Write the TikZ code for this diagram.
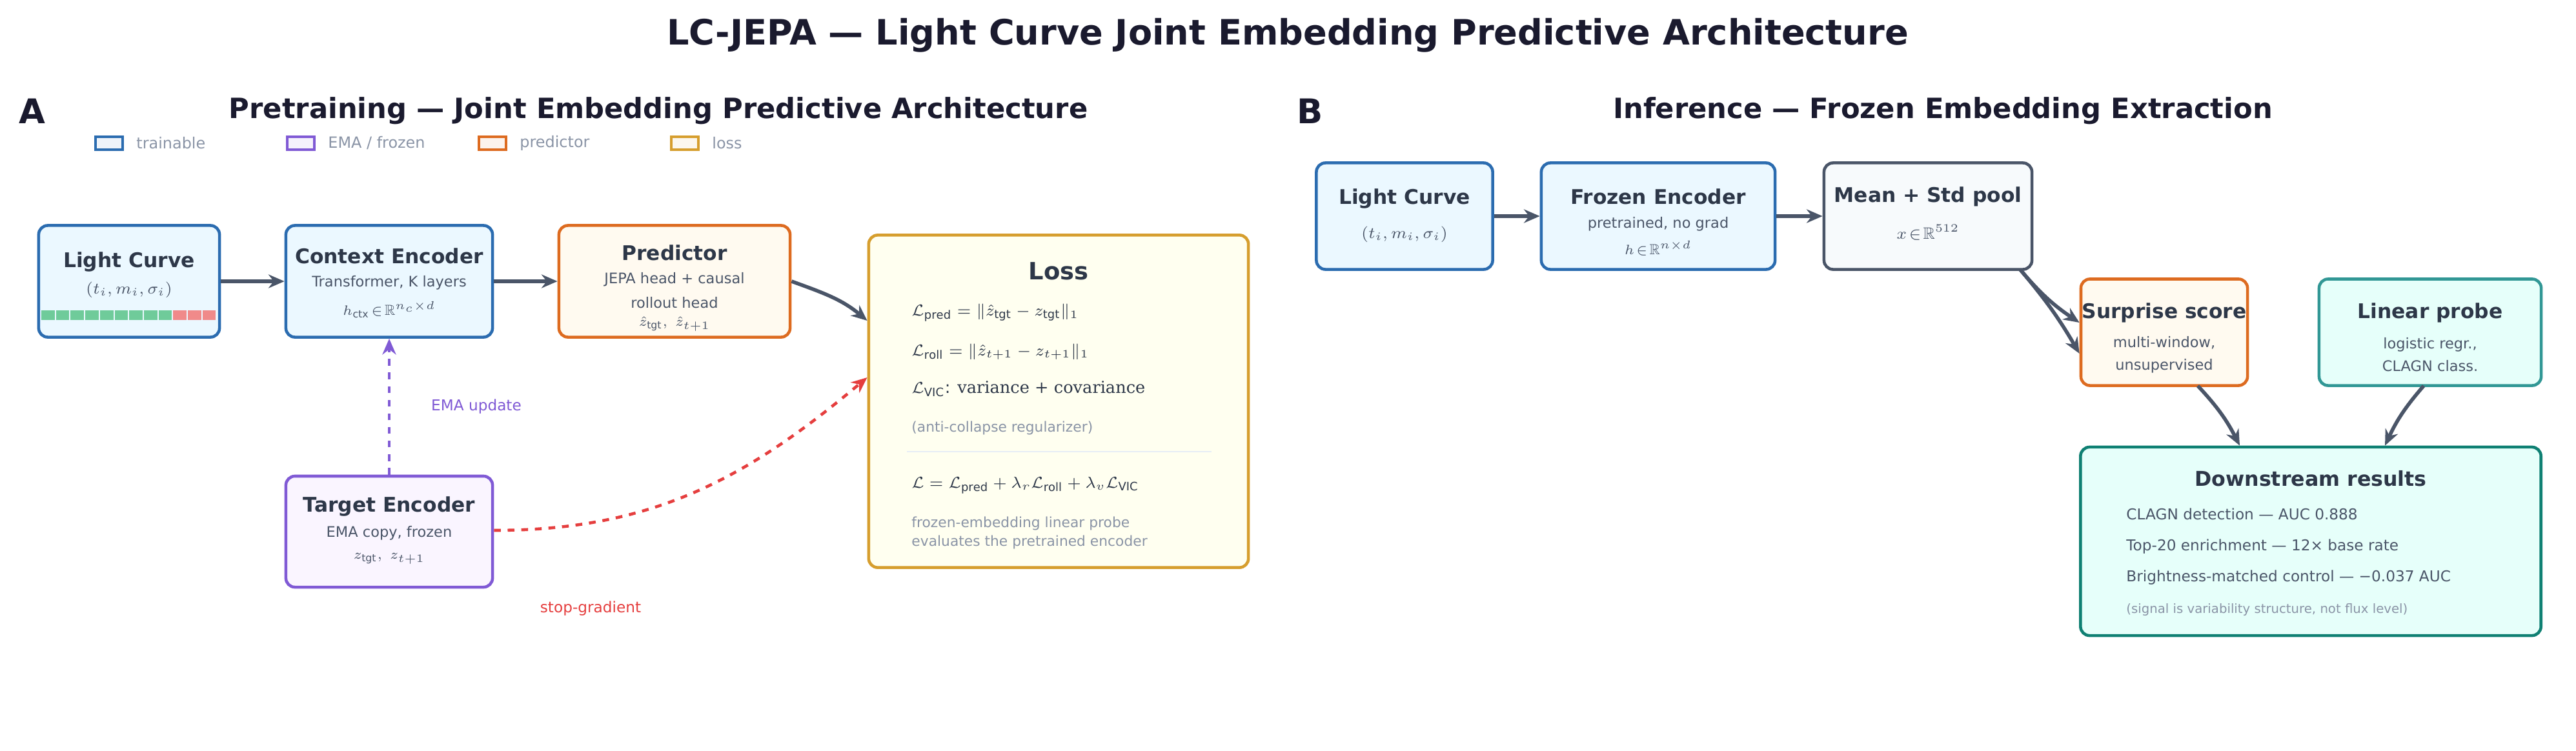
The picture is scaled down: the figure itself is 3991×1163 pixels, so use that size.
\documentclass[tikz,border=0pt]{standalone}
\usepackage{fontspec}
\setmainfont{DejaVu Sans}
\newfontfamily\serifface{DejaVu Serif}
\usepackage{amsmath}
\usepackage{amssymb}
\usetikzlibrary{arrows.meta}
\definecolor{ink}{HTML}{1A1A2E}
\definecolor{head}{HTML}{2D3748}
\definecolor{sub}{HTML}{4A5568}
\definecolor{mute}{HTML}{8A94A6}
\definecolor{blu}{HTML}{2B6CB0}\definecolor{bluf}{HTML}{EBF8FF}
\definecolor{pur}{HTML}{805AD5}\definecolor{purf}{HTML}{FAF5FF}
\definecolor{ora}{HTML}{DD6B20}\definecolor{oraf}{HTML}{FFFAF0}
\definecolor{gol}{HTML}{D69E2E}\definecolor{golf}{HTML}{FFFFF0}
\definecolor{sla}{HTML}{4A5568}\definecolor{slaf}{HTML}{F7FAFC}
\definecolor{tea}{HTML}{319795}\definecolor{teaf}{HTML}{E6FFFA}
\definecolor{teb}{HTML}{0F8073}
\definecolor{grn}{HTML}{6FCB9A}\definecolor{rd}{HTML}{F08A8A}
\definecolor{stop}{HTML}{E53E3E}

\begin{document}
\begin{tikzpicture}[x=0.01cm, y=-0.01cm,
		box/.style={draw, rounded corners=4pt, line width=1.3pt, inner sep=0pt},
		bt/.style={font=\fontsize{8.9}{11}\selectfont\bfseries, text=head},
		bs/.style={font=\fontsize{6.4}{8}\selectfont, text=sub},
		flow/.style={-{Stealth[length=7pt,width=6pt]}, line width=1.6pt, draw=sla},
		leg/.style={draw, line width=1.1pt, minimum width=0.42cm, minimum height=0.2cm, inner sep=0pt}]
\useasboundingbox (0,0) rectangle (3991,1163);
% titles
\node[font=\fontsize{15.4}{18}\selectfont\bfseries, text=ink] (title) at (1995,55) {LC-JEPA — Light Curve Joint Embedding Predictive Architecture};
\node[font=\fontsize{15}{18}\selectfont\bfseries, text=ink] (pA) at (50,172) {A};
\node[font=\fontsize{12.3}{15}\selectfont\bfseries, text=ink] (tA) at (1020,172) {Pretraining — Joint Embedding Predictive Architecture};
\node[font=\fontsize{15}{18}\selectfont\bfseries, text=ink] (pB) at (2030,172) {B};
\node[font=\fontsize{12.3}{15}\selectfont\bfseries, text=ink] (tB) at (3010,172) {Inference — Frozen Embedding Extraction};
% legend
\foreach \x/\c/\t/\n in {169/blu/{trainable}/l1, 466/pur/{EMA / frozen}/l2, 763/ora/{predictor}/l3, 1061/gol/{loss}/l4}{
	\node[leg, draw=\c, fill=\c!8] (\n) at (\x,222) {};
	\node[anchor=west, font=\fontsize{6.8}{9}\selectfont, text=mute] at (\x+30,222) {\t};
}
% panel A boxes
\node[box, draw=blu, fill=bluf, minimum width=2.8cm, minimum height=1.73cm] (lc) at (200,436) {};
\node[bt] at (200,406) {Light Curve};
\node[bs, font=\fontsize{7.5}{9}\selectfont] at (200,449) {$(t_i, m_i, \sigma_i)$};
\foreach \i in {0,...,11}{
	\pgfmathsetmacro\xx{63+\i*22.7}
	\ifnum\i<9 \fill[grn] (\xx+1,481) rectangle (\xx+21.7,496); \else \fill[rd] (\xx+1,481) rectangle (\xx+21.7,496); \fi
}
\node[box, draw=blu, fill=bluf, minimum width=3.2cm, minimum height=1.73cm] (ctx) at (603,436) {};
\node[bt] at (603,397) {Context Encoder};
\node[bs] at (603,438) {Transformer, K layers};
\node[bs] at (603,480) {$h_{\mathrm{ctx}}\!\in\!\mathbb{R}^{n_c\times d}$};
\node[box, draw=ora, fill=oraf, minimum width=3.58cm, minimum height=1.73cm] (pred) at (1045,436) {};
\node[bt] at (1045,392) {Predictor};
\node[bs, align=center] at (1045,450) {JEPA head + causal\\[3pt]rollout head};
\node[bs] at (1045,502) {$\hat z_{\mathrm{tgt}},\ \hat z_{t+1}$};
\node[box, draw=pur, fill=purf, minimum width=3.2cm, minimum height=1.72cm] (tgt) at (603,824) {};
\node[bt] at (603,785) {Target Encoder};
\node[bs] at (603,826) {EMA copy, frozen};
\node[bs] at (603,866) {$z_{\mathrm{tgt}},\ z_{t+1}$};
\node[box, draw=gol, fill=golf, minimum width=5.88cm, minimum height=5.15cm] (loss) at (1640,622) {};
\node[font=\fontsize{10.5}{13}\selectfont\bfseries, text=head] at (1640,420) {Loss};
\begin{scope}[every node/.style={anchor=west, text=head, font=\fontsize{7.3}{9}\selectfont}]
	\node at (1400,485) {$\mathcal{L}_{\mathrm{pred}} = \|\hat z_{\mathrm{tgt}} - z_{\mathrm{tgt}}\|_1$};
	\node at (1400,545) {$\mathcal{L}_{\mathrm{roll}} = \|\hat z_{t+1} - z_{t+1}\|_1$};
	\node at (1400,603) {$\mathcal{L}_{\mathrm{VIC}}$: \serifface variance + covariance};
	\node[text=mute, font=\fontsize{6.2}{8}\selectfont] at (1400,663) {(anti-collapse regularizer)};
	\node at (1400,752) {$\mathcal{L} = \mathcal{L}_{\mathrm{pred}} + \lambda_r\mathcal{L}_{\mathrm{roll}} + \lambda_v\mathcal{L}_{\mathrm{VIC}}$};
	\node[text=mute, font=\fontsize{6.2}{8}\selectfont, align=left] at (1400,826) {frozen-embedding linear probe\\evaluates the pretrained encoder};
\end{scope}
\draw[line width=0.8pt, draw=blu!12] (1405,700) -- (1877,700);
% panel A connectors
\draw[flow] (lc) -- (ctx);
\draw[flow] (ctx) -- (pred);
\draw[flow] (pred.east) to[out=-20, in=140] (loss.west |- 0,497);
\draw[-{Stealth[length=7pt,width=6pt]}, line width=1.3pt, draw=pur, dashed] (tgt) -- (ctx);
\node[font=\fontsize{6.6}{9}\selectfont, text=pur] (ema) at (738,630) {EMA update};
\draw[-{Stealth[length=7pt,width=6pt]}, line width=1.3pt, draw=stop, dashed] (tgt.east |- 0,822) to[out=0, in=220] (loss.west |- 0,585);
\node[font=\fontsize{6.6}{9}\selectfont, text=stop] (sg) at (915,943) {stop-gradient};
% panel B boxes
\node[box, draw=blu, fill=bluf, minimum width=2.73cm, minimum height=1.65cm] (lc2) at (2176,335) {};
\node[bt] at (2176,308) {Light Curve};
\node[bs, font=\fontsize{7.5}{9}\selectfont] at (2176,363) {$(t_i, m_i, \sigma_i)$};
\node[box, draw=blu, fill=bluf, minimum width=3.62cm, minimum height=1.65cm] (enc) at (2569,335) {};
\node[bt] at (2569,305) {Frozen Encoder};
\node[bs] at (2569,347) {pretrained, no grad};
\node[bs] at (2569,385) {$h\!\in\!\mathbb{R}^{n\times d}$};
\node[box, draw=sla, fill=slaf, minimum width=3.22cm, minimum height=1.65cm] (pool) at (2987,335) {};
\node[bt] at (2987,305) {Mean + Std pool};
\node[bs, font=\fontsize{7.2}{9}\selectfont] at (2987,360) {$x\!\in\!\mathbb{R}^{512}$};
\node[box, draw=ora, fill=oraf, minimum width=2.58cm, minimum height=1.65cm] (sur) at (3353,515) {};
\node[bt] at (3353,485) {Surprise score};
\node[bs, align=center] at (3353,550) {multi-window,\\[2pt]unsupervised};
\node[box, draw=tea, fill=teaf, minimum width=3.44cm, minimum height=1.65cm] (lin) at (3765,515) {};
\node[bt] at (3765,485) {Linear probe};
\node[bs, align=center] at (3765,550) {logistic regr.,\\[2pt]CLAGN class.};
\node[box, draw=teb, fill=teaf, minimum width=7.13cm, minimum height=2.92cm] (down) at (3580,839) {};
\node[font=\fontsize{9}{12}\selectfont\bfseries, text=head] at (3580,742) {Downstream results};
\begin{scope}[every node/.style={anchor=west, text=sub, font=\fontsize{6.6}{8}\selectfont}]
	\node at (3282,797) {CLAGN detection — AUC 0.888};
	\node at (3282,847) {Top-20 enrichment — 12× base rate};
	\node at (3282,895) {Brightness-matched control — −0.037 AUC};
	\node[text=mute, font=\fontsize{5.6}{7}\selectfont] at (3282,945) {(signal is variability structure, not flux level)};
\end{scope}
% panel B connectors
\draw[flow] (lc2) -- (enc);
\draw[flow] (enc) -- (pool);
\coordinate (pout) at (3130,418);
\draw[flow] (pout) to[bend right=8] (sur.west |- 0,500);
\draw[flow] (pout) to[bend left=5] (sur.west |- 0,548);
\coordinate (sout) at (3405,598);
\coordinate (lout) at (3755,598);
\draw[flow] (sout) to[bend left=8] (down.north -| 3470,0);
\draw[flow] (lout) to[bend right=8] (down.north -| 3695,0);
\end{tikzpicture}
\end{document}
